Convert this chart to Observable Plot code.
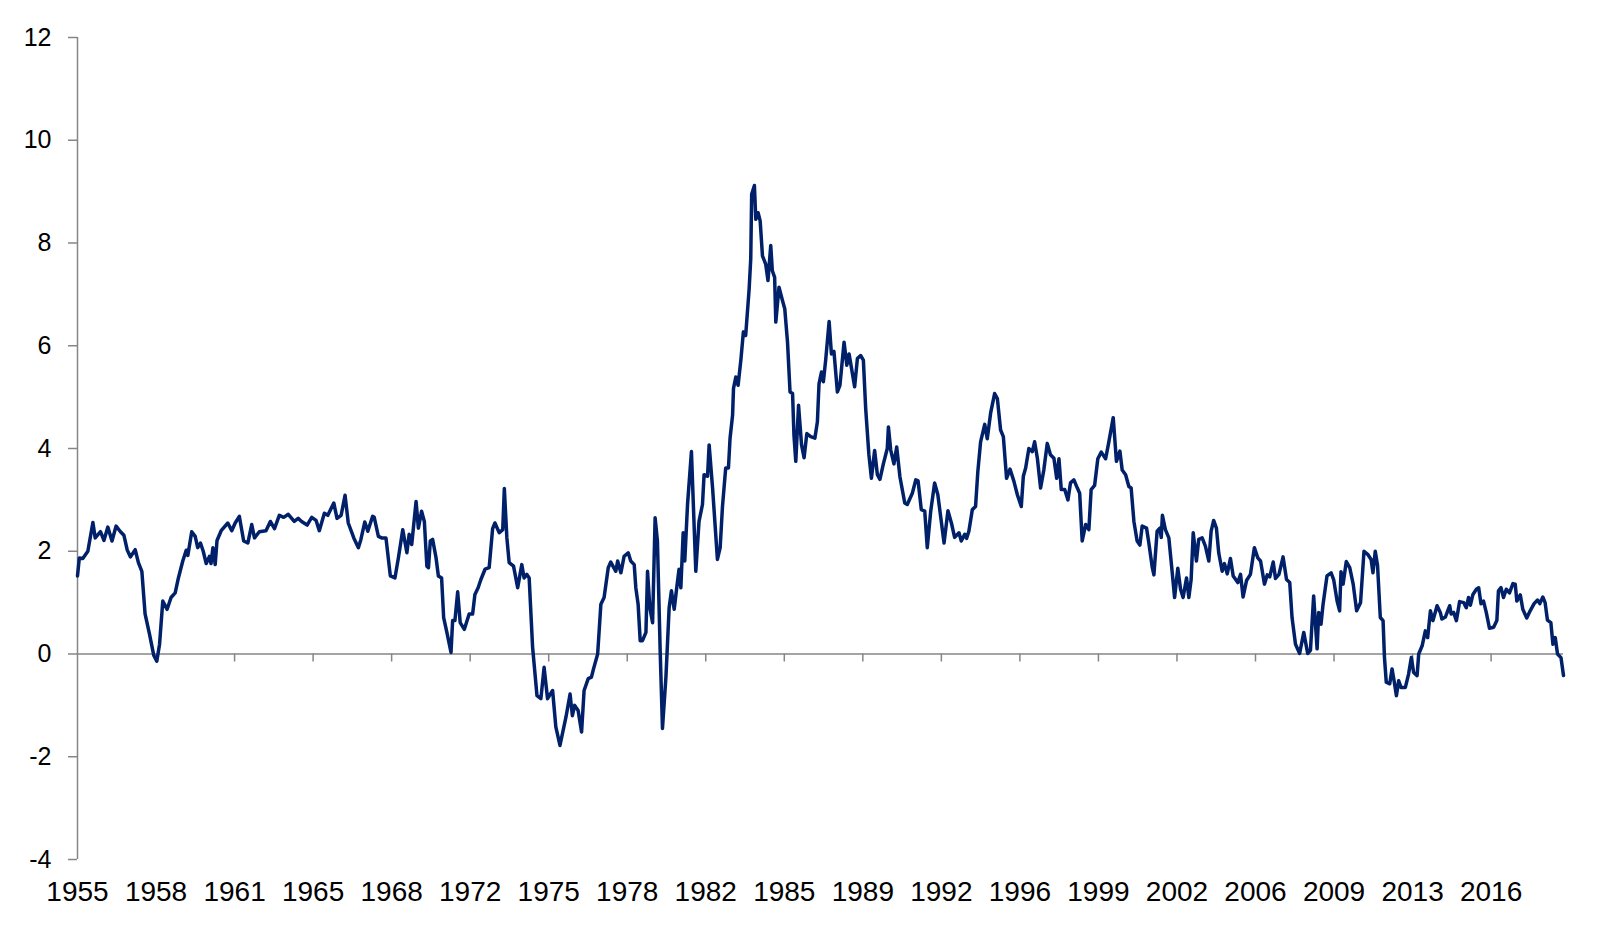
<!DOCTYPE html>
<html>
<head>
<meta charset="utf-8">
<script src="https://cdn.jsdelivr.net/npm/d3@7"></script>
<script src="https://cdn.jsdelivr.net/npm/@observablehq/plot@0.6"></script>
<style>
  html, body { margin: 0; padding: 0; background: #ffffff; }
  #chart { width: 1598px; height: 931px; }
</style>
</head>
<body>
<div id="chart"></div>
<script>
// ---- data (decimal year, value) ----
const years = [
1955.00,1955.08,1955.23,1955.45,1955.67,1955.77,1956.00,1956.15,1956.32,1956.50,1956.68,1956.87,
1957.02,1957.16,1957.30,1957.51,1957.65,1957.80,1957.94,1958.13,1958.32,1958.45,1958.57,1958.71,1958.90,
1959.07,1959.25,1959.39,1959.58,1959.73,1959.80,1959.97,1960.12,1960.23,1960.35,1960.47,1960.60,1960.74,
1960.81,1960.89,1960.99,1961.07,1961.25,1961.54,1961.71,1961.86,1962.04,1962.23,1962.41,1962.58,1962.70,
1962.91,1963.20,1963.39,1963.57,1963.78,1963.97,1964.17,1964.43,1964.60,1964.75,1964.99,1965.19,1965.38,
1965.52,1965.74,1965.89,1966.15,1966.29,1966.47,1966.64,1966.78,1967.02,1967.22,1967.33,1967.50,1967.63,
1967.84,1967.91,1968.09,1968.23,1968.42,1968.61,1968.81,1968.96,1969.15,1969.33,1969.43,1969.54,1969.73,
1969.83,1969.97,1970.09,1970.20,1970.27,1970.35,1970.45,1970.60,1970.70,1970.84,1970.93,1971.07,1971.25,
1971.32,1971.42,1971.54,1971.65,1971.83,1972.04,1972.19,1972.29,1972.43,1972.55,1972.73,1972.91,1973.06,
1973.16,1973.35,1973.50,1973.57,1973.68,1973.78,1973.97,1974.15,1974.33,1974.43,1974.55,1974.65,1974.80,
1974.99,1975.16,1975.30,1975.45,1975.67,1975.81,1975.99,1976.25,1976.43,1976.53,1976.63,1976.78,1976.93,
1977.04,1977.22,1977.36,1977.45,1977.63,1977.77,1977.91,1978.09,1978.20,1978.42,1978.50,1978.64,1978.78,
1978.96,1979.07,1979.22,1979.29,1979.39,1979.48,1979.58,1979.73,1979.80,1979.90,1980.02,1980.13,1980.23,
1980.35,1980.45,1980.60,1980.74,1980.84,1980.96,1981.07,1981.17,1981.25,1981.35,1981.42,1981.54,1981.71,
1981.82,1981.90,1982.04,1982.19,1982.26,1982.41,1982.48,1982.63,1982.84,1982.96,1983.06,1983.20,1983.32,
1983.39,1983.50,1983.54,1983.64,1983.74,1983.86,1983.97,1984.07,1984.22,1984.29,1984.33,1984.45,1984.51,
1984.61,1984.70,1984.80,1984.94,1985.04,1985.16,1985.23,1985.33,1985.38,1985.52,1985.67,1985.77,1985.89,
1986.00,1986.11,1986.17,1986.25,1986.37,1986.50,1986.61,1986.73,1986.90,1987.08,1987.19,1987.26,1987.37,
1987.45,1987.55,1987.70,1987.80,1987.91,1988.06,1988.17,1988.35,1988.47,1988.57,1988.81,1988.93,1989.07,
1989.19,1989.29,1989.43,1989.54,1989.68,1989.80,1989.91,1990.06,1990.23,1990.28,1990.38,1990.52,1990.64,
1990.78,1990.99,1991.10,1991.32,1991.47,1991.57,1991.71,1991.86,1991.97,1992.12,1992.29,1992.43,1992.58,
1992.70,1992.87,1993.02,1993.16,1993.35,1993.45,1993.60,1993.68,1993.78,1993.93,1994.07,1994.17,1994.29,
1994.47,1994.58,1994.73,1994.90,1995.02,1995.16,1995.28,1995.42,1995.57,1995.74,1995.89,1996.06,1996.15,
1996.25,1996.39,1996.54,1996.64,1996.76,1996.90,1997.04,1997.19,1997.33,1997.48,1997.60,1997.70,1997.80,
1997.95,1998.09,1998.20,1998.35,1998.50,1998.60,1998.71,1998.86,1999.00,1999.10,1999.25,1999.39,1999.54,
1999.73,1999.87,2000.06,2000.20,2000.35,2000.45,2000.60,2000.74,2000.84,2000.96,2001.10,2001.22,2001.32,
2001.51,2001.61,2001.76,2001.83,2001.97,2002.09,2002.15,2002.20,2002.33,2002.48,2002.60,2002.73,2002.87,
2002.99,2003.10,2003.25,2003.35,2003.45,2003.54,2003.68,2003.78,2003.93,2004.07,2004.22,2004.32,2004.43,
2004.55,2004.65,2004.80,2004.90,2005.02,2005.16,2005.28,2005.48,2005.60,2005.71,2005.86,2006.03,2006.20,
2006.35,2006.47,2006.64,2006.76,2006.87,2007.02,2007.12,2007.27,2007.45,2007.60,2007.74,2007.84,2007.99,
2008.17,2008.35,2008.52,2008.64,2008.78,2008.93,2009.00,2009.10,2009.19,2009.36,2009.54,2009.65,2009.80,
2009.91,2009.97,2010.06,2010.20,2010.35,2010.50,2010.65,2010.82,2010.97,2011.13,2011.28,2011.36,2011.46,
2011.56,2011.68,2011.80,2011.86,2011.94,2012.09,2012.19,2012.29,2012.38,2012.48,2012.58,2012.77,2012.91,
2013.03,2013.13,2013.28,2013.35,2013.50,2013.64,2013.74,2013.86,2013.97,2014.15,2014.29,2014.36,2014.51,
2014.70,2014.76,2014.87,2014.99,2015.13,2015.31,2015.42,2015.52,2015.60,2015.71,2015.86,2015.96,2016.06,
2016.17,2016.29,2016.43,2016.61,2016.75,2016.82,2016.93,2017.04,2017.16,2017.30,2017.45,2017.55,2017.62,
2017.77,2017.88,2018.05,2018.20,2018.37,2018.52,2018.62,2018.75,2018.85,2018.95,2019.10,2019.19,2019.29,
2019.39,2019.54,2019.65
];
const values = [
1.52,1.87,1.86,2.00,2.56,2.26,2.38,2.21,2.47,2.20,2.49,2.38,
2.31,2.03,1.89,2.03,1.78,1.61,0.78,0.39,-0.03,-0.14,0.19,1.03,0.87,
1.10,1.19,1.48,1.81,2.02,1.92,2.38,2.29,2.07,2.16,2.00,1.76,1.90,
1.76,2.07,1.74,2.21,2.40,2.55,2.40,2.55,2.68,2.20,2.16,2.52,2.26,
2.38,2.40,2.58,2.44,2.70,2.66,2.72,2.58,2.64,2.58,2.51,2.66,2.60,
2.40,2.74,2.70,2.94,2.64,2.70,3.09,2.55,2.26,2.07,2.23,2.57,2.39,
2.68,2.66,2.29,2.26,2.26,1.52,1.48,1.87,2.42,1.97,2.33,2.13,2.97,
2.45,2.78,2.58,1.71,1.68,2.20,2.23,1.87,1.52,1.48,0.71,0.42,0.03,
0.65,0.65,1.21,0.61,0.48,0.78,0.78,1.16,1.29,1.45,1.65,1.68,2.44,
2.55,2.36,2.42,3.22,2.26,1.78,1.71,1.29,1.74,1.48,1.55,1.48,0.13,
-0.81,-0.87,-0.26,-0.87,-0.71,-1.42,-1.78,-1.23,-0.78,-1.20,-1.00,-1.10,-1.52,
-0.71,-0.48,-0.45,-0.29,0.00,0.97,1.10,1.68,1.79,1.61,1.81,1.58,1.90,
1.97,1.81,1.74,1.29,0.97,0.26,0.26,0.42,1.61,0.90,0.61,2.65,2.20,
0.06,-1.45,-0.45,0.90,1.23,0.87,1.29,1.65,1.29,2.36,1.81,2.91,3.94,
2.58,1.61,2.58,2.91,3.49,3.46,4.07,3.23,1.84,2.07,2.87,3.62,3.62,
4.20,4.65,5.17,5.39,5.23,5.72,6.27,6.20,7.10,7.69,8.95,9.12,8.46,
8.59,8.43,7.75,7.59,7.27,7.95,7.46,7.33,6.46,7.14,6.88,6.72,6.07,
5.10,5.07,4.26,3.75,4.84,4.07,3.82,4.29,4.23,4.20,4.52,5.26,5.49,
5.30,5.72,6.47,5.84,5.89,5.10,5.23,6.07,5.62,5.84,5.20,5.75,5.81,
5.72,4.78,3.88,3.42,3.96,3.49,3.40,3.70,4.00,4.42,3.97,3.70,4.03,
3.45,2.94,2.91,3.13,3.39,3.37,2.81,2.78,2.07,2.78,3.33,3.10,2.58,
2.16,2.79,2.55,2.27,2.36,2.20,2.33,2.25,2.39,2.81,2.87,3.55,4.13,
4.47,4.19,4.70,5.07,4.97,4.36,4.23,3.42,3.60,3.36,3.10,2.87,3.46,
3.62,4.00,3.94,4.13,3.81,3.23,3.58,4.10,3.88,3.81,3.42,3.80,3.20,
3.20,3.00,3.33,3.39,3.23,3.13,2.20,2.52,2.42,3.20,3.28,3.80,3.93,
3.80,4.13,4.60,3.75,3.95,3.58,3.49,3.26,3.23,2.58,2.20,2.12,2.49,
2.45,2.16,1.68,1.54,2.39,2.45,2.27,2.70,2.42,2.26,1.71,1.10,1.67,
1.26,1.10,1.48,1.10,1.45,2.36,1.81,2.23,2.26,2.10,1.81,2.39,2.60,
2.45,1.97,1.61,1.76,1.56,1.86,1.52,1.39,1.55,1.11,1.43,1.55,2.07,
1.87,1.81,1.36,1.54,1.50,1.79,1.47,1.55,1.89,1.45,1.39,0.71,0.19,
0.01,0.42,0.01,0.07,1.13,0.10,0.81,0.58,0.97,1.52,1.58,1.45,1.03,
0.84,1.60,1.36,1.80,1.68,1.36,0.84,1.00,2.00,1.94,1.84,1.58,2.00,
1.72,0.71,0.65,-0.06,-0.55,-0.58,-0.29,-0.55,-0.81,-0.52,-0.65,-0.65,-0.39,
-0.07,-0.36,-0.42,0.00,0.16,0.45,0.32,0.84,0.65,0.94,0.81,0.68,0.72,
0.94,0.78,0.81,0.65,1.02,1.00,0.90,1.10,0.95,1.16,1.26,1.29,0.98,
1.03,0.81,0.50,0.52,0.65,1.23,1.29,1.10,1.26,1.19,1.37,1.36,1.03,
1.15,0.87,0.70,0.84,0.98,1.05,0.98,1.11,1.00,0.66,0.61,0.19,0.32,
0.00,-0.07,-0.42
];

// ---- axes ----
const xTickLabels = ["1955","1958","1961","1965","1968","1972","1975","1978","1982","1985",
                     "1989","1992","1996","1999","2002","2006","2009","2013","2016"];
const xTickStepMonths = 41; // one label every 41 monthly observations, from Jan 1955
const yTicks = [-4, -2, 0, 2, 4, 6, 8, 10, 12];

const startYear = 1955;
const xTicks = xTickLabels.map((label, i) => ({label, x: startYear + i * xTickStepMonths / 12}));
const data = years.map((x, i) => ({x, y: values[i]}));

const axisGray = "#868686";
const lineColor = "#00216A";

const chart = Plot.plot({
  width: 1598,
  height: 931,
  marginLeft: 77,
  marginRight: 35,
  marginTop: 37,
  marginBottom: 72,
  style: {fontFamily: "'Liberation Sans', Arial, Helvetica, sans-serif", background: "#ffffff", color: "#000000"},
  x: {domain: [startYear, years[years.length - 1]], axis: null},
  y: {domain: [-4, 12], axis: null},
  marks: [
    // zero line (category axis)
    Plot.ruleY([0], {stroke: axisGray, strokeWidth: 1.5}),
    // x tick marks hanging below the zero line
    Plot.ruleX(xTicks.slice(1), {x: "x", y1: 0, y2: 0, insetTop: 0, insetBottom: -8, stroke: axisGray, strokeWidth: 1.5}),
    // y axis line
    Plot.ruleX([startYear], {stroke: axisGray, strokeWidth: 1.5}),
    // y tick marks
    Plot.ruleY(yTicks, {y: d => d, x1: startYear, x2: startYear, insetLeft: -9, insetRight: 0, stroke: axisGray, strokeWidth: 1.5}),
    // y tick labels
    Plot.text(yTicks, {x: startYear, y: d => d, text: d => String(d), textAnchor: "end", dx: -26, fontSize: 25, fill: "#000000"}),
    // x tick labels
    Plot.text(xTicks, {x: "x", y: -4, text: "label", dy: 33, fontSize: 28, fill: "#000000"}),
    // the series
    Plot.line(data, {x: "x", y: "y", stroke: lineColor, strokeWidth: 3.5, strokeLinejoin: "round", strokeLinecap: "round"})
  ]
});
document.getElementById("chart").appendChild(chart);
</script>
</body>
</html>
